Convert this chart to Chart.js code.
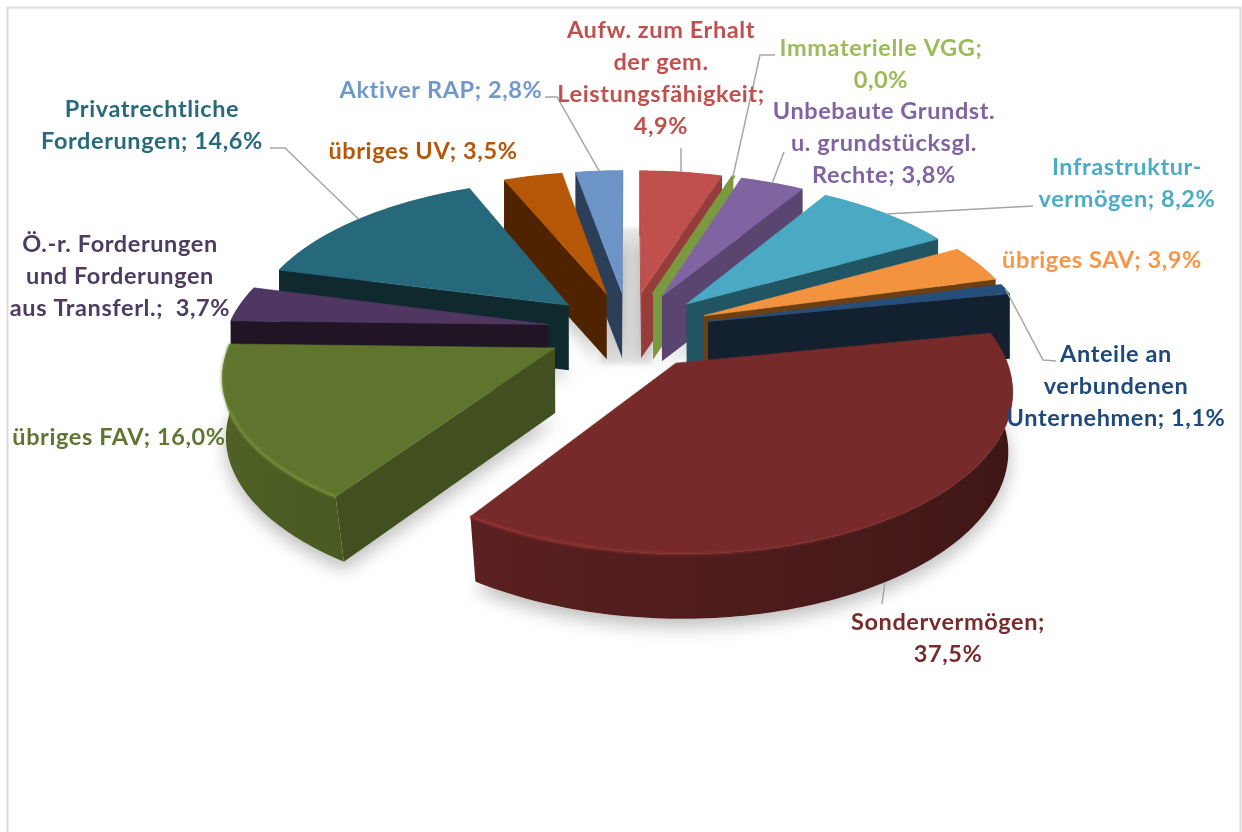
<!DOCTYPE html>
<html>
<head>
<meta charset="utf-8">
<script src="https://cdn.jsdelivr.net/npm/chart.js@4"></script>
<style>
  body{margin:0;background:#fff;}
  canvas{display:block;}
</style>
</head>
<body>
<canvas id="pie3d" width="1242" height="832"></canvas>
<script>
// values (Immaterielle VGG is a sliver that rounds to 0,0)
const categories = ['Aufw. zum Erhalt der gem. Leistungsfähigkeit','Immaterielle VGG','Unbebaute Grundst. u. grundstücksgl. Rechte','Infrastrukturvermögen','übriges SAV','Anteile an verbundenen Unternehmen','Sondervermögen','übriges FAV','Ö.-r. Forderungen und Forderungen aus Transferl.','Privatrechtliche Forderungen','übriges UV','Aktiver RAP'];
const shares = [4.9,0.04,3.8,8.2,3.9,1.1,37.5,16.0,3.7,14.6,3.5,2.8];
const labelLines = [
  ['Aufw. zum Erhalt','der gem.','Leistungsfähigkeit;'],
  ['Immaterielle VGG;'],
  ['Unbebaute Grundst.','u. grundstücksgl.','Rechte;'],
  ['Infrastruktur-','vermögen;'],
  ['übriges SAV;'],
  ['Anteile an','verbundenen','Unternehmen;'],
  ['Sondervermögen;'],
  ['übriges FAV;'],
  ['Ö.-r. Forderungen','und Forderungen','aus Transferl.; '],
  ['Privatrechtliche','Forderungen;'],
  ['übriges UV;'],
  ['Aktiver RAP;']
];
// true = percent goes on its own line
const percentOwnLine = [true,true,false,false,false,false,true,false,false,false,false,false];

const topColors = ['#c0504d','#7a9a40','#8064a2','#4aa9c3','#f39340','#254e78','#772a2a','#5f752d','#4f3762','#26687c','#b65708','#6c94c7'];
const wallColors = ['#963c3a','#7a9a40','#5a4570','#215563','#6d3f13','#122030','#5a1f1c','#425020','#201425','#10292f','#4f2300','#2c3f58'];
const textColors = ['#c0504d','#9bbb59','#8064a2','#4bacc6','#f79646','#1f497d','#772c2a','#5f7530','#4d3b62','#276a7c','#b65708','#7098cb'];

// label centre x and y of first line
const labelX = [661,881,884,1127,1102,1116,948,119,120,152,423,441];
const labelY = [30,48,111,167,260,354,622,437,244,109,151,90];
// leader lines start here and end on the slice rim, null = no line
const leaderStart = [
  [[681,148]], [[775,55],[760,55]], [[784,152]], [[1033,206]], null,
  [[1056,361],[1043,360]], [[882,604]], null, null, [[270,148],[285,148]], null, [[545,97],[557,97]]
];

// view of the 3d pie
const cx = 629, cy = 330, sx = 321, sy = 151, persp = 0.15, depth = 65, explode = 0.255;

function project(X, V, z){
  const w = 1/(1 - persp*V);
  let x = cx + sx*X*w;
  let y = cy + sy*V*w;
  // the underside pulls in only towards the viewer
  x = cx + (x-cx)*(1 - 0.03*z*Math.max(0,V));
  y = y + depth*z;
  return [x,y];
}

function shade(hex, f, alpha){
  const n = parseInt(hex.slice(1),16);
  const r = Math.min(255,Math.round((n>>16&255)*f)), g = Math.min(255,Math.round((n>>8&255)*f)), b = Math.min(255,Math.round((n&255)*f));
  return `rgba(${r},${g},${b},${alpha===undefined ? 1 : alpha})`;
}

function sliceGeom(arc){
  const p = arc.getProps(['startAngle','endAngle']);
  const a0 = p.startAngle + Math.PI/2, a1 = p.endAngle + Math.PI/2;
  const mid = (a0+a1)/2;
  const ex = explode*Math.sin(mid), ey = -explode*Math.cos(mid);
  return {a0, a1, mid, pt:(ang,r,z)=>project(ex + r*Math.sin(ang), ey - r*Math.cos(ang), z)};
}

function trace(ctx, pts){
  ctx.beginPath();
  pts.forEach((q,i)=> i ? ctx.lineTo(q[0],q[1]) : ctx.moveTo(q[0],q[1]));
  ctx.closePath();
}

function rimPoints(g, z){
  const pts = [];
  const steps = Math.max(2, Math.ceil((g.a1-g.a0)/0.02));
  for(let i=0;i<=steps;i++){
    pts.push(g.pt(g.a0 + (g.a1-g.a0)*i/steps, 1, z));
  }
  return pts;
}

// left to right gradient along the rim, colorAt gets the angle
function rimGradient(ctx, g, colorAt){
  const samples = [];
  for(let i=0;i<=40;i++){
    const ang = g.a0 + (g.a1-g.a0)*i/40;
    samples.push({x:g.pt(ang,1,0)[0], ang:ang});
  }
  samples.sort((a,b)=>a.x-b.x);
  const x0 = samples[0].x, x1 = samples[samples.length-1].x;
  const grad = ctx.createLinearGradient(x0,0,x1+0.01,0);
  samples.forEach(s=> grad.addColorStop((s.x-x0)/(x1+0.01-x0), colorAt(s.ang)));
  return grad;
}

function drawWall(ctx, g, ang, inner, color){
  const tip = g.pt(0,0,0), end = g.pt(ang,1,0), tipB = g.pt(0,0,1), endB = g.pt(ang,1,1);
  // only the cut faces turned to the viewer show up
  const ex = end[0]-tip[0], ey = end[1]-tip[1];
  const ix = inner[0]-tip[0], iy = inner[1]-tip[1];
  const sideInner = ex*iy - ey*ix, sideDown = ex*1;
  if(sideInner*sideDown > 0) return;
  trace(ctx,[tip,end,endB,tipB]);
  ctx.fillStyle = color;
  ctx.fill();
}

const pie3dPlugin = {
  id:'pie3d',
  beforeDatasetDraw(chart){
    const ctx = chart.ctx;
    const arcs = chart.getDatasetMeta(0).data;
    const geoms = arcs.map(sliceGeom);

    ctx.save();
    // frame of the chart area, bottom edge runs off the picture
    ctx.strokeStyle = '#dcdcdc';
    ctx.lineWidth = 2;
    ctx.strokeRect(7.5,7.5,1233,900);

    // grey shadow seen through the gap at the back
    ctx.save();
    ctx.filter = 'blur(2px)';
    ctx.fillStyle = '#e6e6e6';
    const wedge = [project(-0.03,-0.75,0),project(0.07,-0.75,0),project(0.07,0.1,0.28),project(-0.09,0.1,0.28)];
    trace(ctx,wedge);
    ctx.fill();
    ctx.restore();

    // soft shadow under every slice
    ctx.save();
    ctx.shadowColor = 'rgba(0,0,0,0.26)';
    ctx.shadowBlur = 18;
    ctx.shadowOffsetY = 8;
    ctx.fillStyle = '#fff';
    geoms.forEach(g=>{
      trace(ctx,[g.pt(0,0,1)].concat(rimPoints(g,1)));
      ctx.fill();
    });
    ctx.restore();

    // back slices first so the front ones cover them
    const order = geoms.map((g,i)=>i).sort((a,b)=>Math.cos(geoms[b].mid)-Math.cos(geoms[a].mid));
    order.forEach(i=>{
      const g = geoms[i];
      const top = rimPoints(g,0), bot = rimPoints(g,1);
      const inner = g.pt(g.mid,0.7,0);

      // outer rim
      trace(ctx,top.concat(bot.slice().reverse()));
      ctx.fillStyle = i==1 ? wallColors[i] : rimGradient(ctx,g,a=>shade(topColors[i],0.68 - 0.16*Math.sin(a)));
      ctx.fill();

      drawWall(ctx,g,g.a0,inner,wallColors[i]);
      drawWall(ctx,g,g.a1,inner,wallColors[i]);

      // top face
      trace(ctx,[g.pt(0,0,0)].concat(top));
      ctx.fillStyle = topColors[i];
      ctx.strokeStyle = topColors[i];
      ctx.lineWidth = i==1 ? 3 : 0.6;
      ctx.fill();
      ctx.stroke();

      // lit bevel along the front edge, fades out to the right
      if(g.a1-g.a0 > 0.5){
        ctx.save();
        ctx.filter = 'blur(1.2px)';
        ctx.lineWidth = 3;
        ctx.strokeStyle = rimGradient(ctx,g,a=>{
          const k = Math.max(0,Math.min(1,(-Math.cos(a)+0.1)*2)) * Math.max(0,Math.min(1,(0.75-Math.sin(a))*0.9));
          return shade(topColors[i],1.2,k);
        });
        ctx.beginPath();
        top.forEach((q,k)=> k ? ctx.lineTo(q[0],q[1]) : ctx.moveTo(q[0],q[1]));
        ctx.stroke();
        ctx.restore();
      }
    });
    ctx.restore();
    return false;
  },
  afterDraw(chart){
    const ctx = chart.ctx;
    const arcs = chart.getDatasetMeta(0).data;
    ctx.save();
    // leader lines
    ctx.strokeStyle = '#a6a6a6';
    ctx.lineWidth = 1.5;
    arcs.forEach((arc,i)=>{
      if(!leaderStart[i]) return;
      const g = sliceGeom(arc);
      const end = g.pt(g.mid,1,i==6 ? 1 : 0);
      ctx.beginPath();
      leaderStart[i].forEach((q,k)=> k ? ctx.lineTo(q[0],q[1]) : ctx.moveTo(q[0],q[1]));
      ctx.lineTo(end[0],end[1]);
      ctx.stroke();
    });
    // labels
    ctx.font = 'bold 23.5px Lato';
    ctx.letterSpacing = '0.6px';
    ctx.textAlign = 'center';
    ctx.textBaseline = 'middle';
    shares.forEach((v,i)=>{
      const pct = (v.toFixed(1)).replace('.',',') + '%';
      const lines = labelLines[i].slice();
      if(percentOwnLine[i]) lines.push(pct);
      else lines[lines.length-1] += ' ' + pct;
      ctx.fillStyle = textColors[i];
      lines.forEach((t,k)=> ctx.fillText(t,labelX[i],labelY[i]+k*32));
    });
    ctx.restore();
  }
};

new Chart(document.getElementById('pie3d').getContext('2d'),{
  type:'pie',
  data:{
    labels:categories,
    datasets:[{data:shares,backgroundColor:topColors,borderWidth:0}]
  },
  options:{
    responsive:false,
    animation:false,
    plugins:{legend:{display:false},tooltip:{enabled:false}}
  },
  plugins:[pie3dPlugin]
});
</script>
</body>
</html>
